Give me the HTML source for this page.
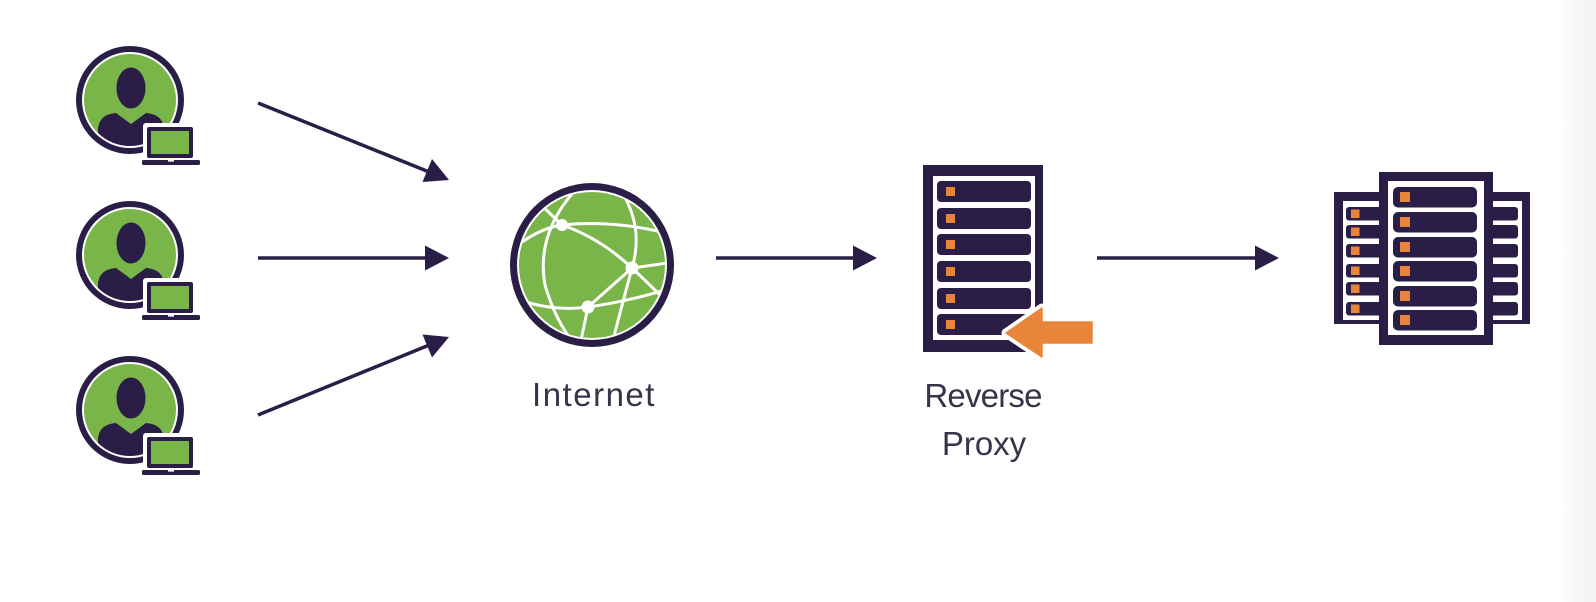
<!DOCTYPE html>
<html>
<head>
<meta charset="utf-8">
<style>
  html,body{margin:0;padding:0;background:#fff;}
  body{width:1596px;height:602px;overflow:hidden;position:relative;}
  .strip{position:absolute;left:1560px;top:0;width:36px;height:602px;
    background:linear-gradient(to right,#ffffff 0%,#f8f8f8 30%,#f4f4f4 70%,#f4f4f4 100%);}
  svg{position:absolute;left:0;top:0;}
</style>
</head>
<body>
<div class="strip"></div>
<svg width="1596" height="602" viewBox="0 0 1596 602" xmlns="http://www.w3.org/2000/svg">
  <defs>
    <clipPath id="uc"><circle cx="0" cy="0" r="46"/></clipPath>
    <clipPath id="gc"><circle cx="592" cy="265" r="73"/></clipPath>
    <g id="user">
      <circle cx="0" cy="0" r="54" fill="#2a1e47"/>
      <circle cx="0" cy="0" r="48" fill="#ffffff"/>
      <circle cx="0" cy="0" r="46" fill="#79b548"/>
      <g clip-path="url(#uc)" fill="#2a1e47">
        <ellipse cx="1" cy="-12" rx="14.5" ry="20.5"/>
        <path d="M-32,50 L-32,28 Q-30,14 -14,13 L1,24 L16,13 Q32,14 34,28 L34,50 Z"/>
      </g>
      <!-- laptop -->
      <rect x="13" y="23" width="54" height="39" rx="3" fill="#ffffff"/>
      <rect x="8" y="56" width="66" height="12" rx="3" fill="#ffffff"/>
      <rect x="17" y="27" width="46" height="31" rx="2" fill="#2a1e47"/>
      <rect x="21" y="31" width="38" height="23" fill="#79b548"/>
      <rect x="12" y="60" width="58" height="5" rx="1.5" fill="#2a1e47"/>
      <rect x="38" y="60" width="6" height="1.6" fill="#ffffff"/>
    </g>
  </defs>

  <!-- users -->
  <use href="#user" x="130" y="100"/>
  <use href="#user" x="130" y="255"/>
  <use href="#user" x="130" y="410"/>

  <!-- arrows -->
  <g stroke="#2a1e47" stroke-width="3.5" fill="none">
    <line x1="258" y1="103" x2="428" y2="171.5"/>
    <line x1="258" y1="258" x2="427" y2="258"/>
    <line x1="258" y1="415" x2="428" y2="345.5"/>
    <line x1="716" y1="258" x2="854" y2="258"/>
    <line x1="1097" y1="258" x2="1256" y2="258"/>
  </g>
  <g fill="#2a1e47">
    <polygon points="449,180 422.5,182 432,159"/>
    <polygon points="449,258 425,245.5 425,270.5"/>
    <polygon points="449,337 432,357.5 422.5,334.5"/>
    <polygon points="877,258 853,245.5 853,270.5"/>
    <polygon points="1279,258 1255,245.5 1255,270.5"/>
  </g>

  <!-- globe -->
  <circle cx="592" cy="265" r="82" fill="#2a1e47"/>
  <circle cx="592" cy="265" r="75" fill="#ffffff"/>
  <circle cx="592" cy="265" r="73" fill="#79b548"/>
  <g clip-path="url(#gc)" stroke="#ffffff" stroke-width="3" fill="none" stroke-linecap="round">
    <path d="M515,247 Q540,228 562,225 Q610,220 662,232"/>
    <path d="M562,225 L536,200"/>
    <path d="M562,225 Q600,238 632,268 Q650,285 665,300"/>
    <path d="M618,186 Q645,225 632,268 Q622,305 613,340"/>
    <path d="M632,268 L675,262"/>
    <path d="M632,268 L588,307"/>
    <path d="M515,298 Q550,312 588,307 Q625,302 665,290"/>
    <path d="M588,307 L580,345"/>
    <path d="M582,183 Q535,230 545,285 Q555,320 575,345"/>
  </g>
  <g fill="#ffffff">
    <circle cx="562" cy="225" r="6"/>
    <circle cx="632" cy="268" r="6.5"/>
    <circle cx="588" cy="307" r="6.5"/>
  </g>

  <!-- reverse proxy server -->
  <rect x="923" y="165" width="120" height="187" fill="#2a1e47"/>
  <rect x="933" y="176" width="102" height="164" fill="#ffffff"/>
  <g fill="#2a1e47">
    <rect x="937" y="181" width="94" height="21" rx="4"/>
    <rect x="937" y="208" width="94" height="21" rx="4"/>
    <rect x="937" y="234" width="94" height="21" rx="4"/>
    <rect x="937" y="261" width="94" height="21" rx="4"/>
    <rect x="937" y="288" width="94" height="21" rx="4"/>
    <rect x="937" y="314" width="94" height="21" rx="4"/>
  </g>
  <g fill="#e9853a">
    <rect x="946" y="187" width="9" height="9"/>
    <rect x="946" y="214" width="9" height="9"/>
    <rect x="946" y="240" width="9" height="9"/>
    <rect x="946" y="267" width="9" height="9"/>
    <rect x="946" y="294" width="9" height="9"/>
    <rect x="946" y="320" width="9" height="9"/>
  </g>
  <polygon points="1006,333 1042,308 1042,322 1092,322 1092,343 1042,343 1042,357" fill="#ffffff" stroke="#ffffff" stroke-width="9" stroke-linejoin="round"/>
  <polygon points="1006,333 1042,308 1042,322 1092,322 1092,343 1042,343 1042,357" fill="#e9853a" stroke="#e9853a" stroke-width="1.5" stroke-linejoin="round"/>

  <!-- server farm: left tower -->
  <rect x="1334" y="192" width="50" height="132" fill="#2a1e47"/>
  <rect x="1343" y="201" width="41" height="119" fill="#ffffff"/>
  <g fill="#2a1e47">
    <rect x="1346" y="207" width="40" height="13.5" rx="3"/>
    <rect x="1346" y="225" width="40" height="13.5" rx="3"/>
    <rect x="1346" y="244" width="40" height="13.5" rx="3"/>
    <rect x="1346" y="264" width="40" height="13.5" rx="3"/>
    <rect x="1346" y="282" width="40" height="13.5" rx="3"/>
    <rect x="1346" y="302" width="40" height="13.5" rx="3"/>
  </g>
  <g fill="#e9853a">
    <rect x="1351" y="209.5" width="8.5" height="8.5"/>
    <rect x="1351" y="227.5" width="8.5" height="8.5"/>
    <rect x="1351" y="246.5" width="8.5" height="8.5"/>
    <rect x="1351" y="266.5" width="8.5" height="8.5"/>
    <rect x="1351" y="284.5" width="8.5" height="8.5"/>
    <rect x="1351" y="304.5" width="8.5" height="8.5"/>
  </g>
  <!-- right tower -->
  <rect x="1488" y="192" width="42" height="132" fill="#2a1e47"/>
  <rect x="1488" y="201" width="34" height="119" fill="#ffffff"/>
  <g fill="#2a1e47">
    <rect x="1486" y="207" width="32" height="13.5" rx="3"/>
    <rect x="1486" y="225" width="32" height="13.5" rx="3"/>
    <rect x="1486" y="244" width="32" height="13.5" rx="3"/>
    <rect x="1486" y="264" width="32" height="13.5" rx="3"/>
    <rect x="1486" y="282" width="32" height="13.5" rx="3"/>
    <rect x="1486" y="302" width="32" height="13.5" rx="3"/>
  </g>
  <!-- center tower -->
  <rect x="1379" y="172" width="114" height="173" fill="#2a1e47"/>
  <rect x="1388" y="181" width="96" height="154" fill="#ffffff"/>
  <g fill="#2a1e47">
    <rect x="1393" y="187" width="84" height="20.5" rx="5"/>
    <rect x="1393" y="212" width="84" height="20.5" rx="5"/>
    <rect x="1393" y="237" width="84" height="20.5" rx="5"/>
    <rect x="1393" y="261" width="84" height="20.5" rx="5"/>
    <rect x="1393" y="286" width="84" height="20.5" rx="5"/>
    <rect x="1393" y="310" width="84" height="20.5" rx="5"/>
  </g>
  <g fill="#e9853a">
    <rect x="1400" y="192" width="10" height="10"/>
    <rect x="1400" y="217" width="10" height="10"/>
    <rect x="1400" y="242" width="10" height="10"/>
    <rect x="1400" y="266" width="10" height="10"/>
    <rect x="1400" y="291" width="10" height="10"/>
    <rect x="1400" y="315" width="10" height="10"/>
  </g>

  <!-- labels -->
  <g font-family="'Liberation Sans', 'DejaVu Sans', sans-serif" fill="#36344a" text-anchor="middle" font-size="33">
    <text x="594" y="406" letter-spacing="1.5">Internet</text>
    <text x="983" y="407" letter-spacing="-0.8">Reverse</text>
    <text x="984" y="455">Proxy</text>
  </g>
</svg>
</body>
</html>
